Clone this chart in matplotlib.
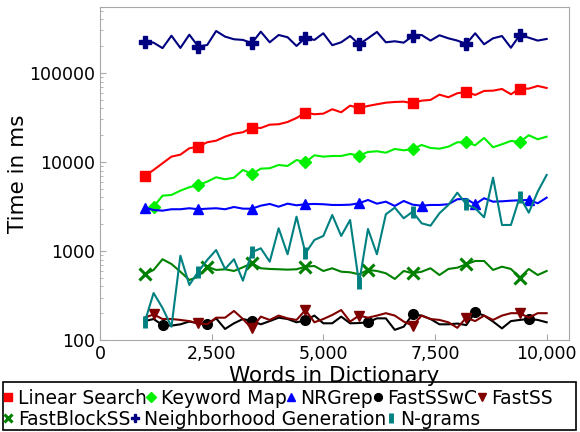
"""
Lookup time of approximate string matching methods vs dictionary size.
"""

import matplotlib
matplotlib.use("Agg")
import matplotlib.pyplot as plt
from matplotlib.lines import Line2D
from matplotlib.patches import Rectangle
from matplotlib.ticker import FuncFormatter, FixedLocator

# ============================================
# Data: lookup time in ms, dictionary grows in steps of 200 words
# ============================================
words = list(range(1000, 10001, 200))
words_keyword = words[1:]  # keyword map run starts at 1200 words

linear_search = [6960, 8130, 9670, 11480, 12080, 14260, 14860, 16640, 17340, 19230,
                 20790, 21560, 24280, 24100, 26240, 26530, 28130, 31200, 35800, 34360,
                 34900, 39100, 36150, 42940, 40450, 42580, 44480, 46360, 47200, 47600,
                 45700, 48860, 49770, 57040, 53330, 59150, 61200, 56600, 62800, 63260,
                 66070, 57650, 66660, 66660, 71450, 67800]
keyword_map = [3145, 4180, 4260, 4760, 5200, 5520, 6010, 6730, 6390, 6660,
               8130, 7330, 8410, 8500, 9250, 9020, 10520, 9930, 11890, 11480,
               11670, 11670, 12300, 11770, 12950, 13190, 12710, 13990, 13530, 13890,
               15530, 14360, 14100, 14860, 16640, 16640, 15410, 18620, 14620, 15810,
               17210, 16790, 19950, 17990, 19230]
nrgrep = [3067, 2889, 2838, 2943, 2943, 3020, 2943, 2987, 3020, 2943,
          3120, 2987, 2987, 3228, 3375, 3145, 3400, 3260, 3350, 3375,
          3350, 3288, 3288, 3313, 3435, 3742, 3400, 3581, 3203, 3646,
          3313, 3228, 3288, 3288, 3350, 3811, 3840, 3350, 3911, 3581,
          3614, 3672, 3711, 3742, 3435, 3972]
fastsswc = [163, 172, 147, 145, 150, 161, 154, 150, 175, 133,
            154, 172, 163, 150, 163, 178, 172, 158, 166, 188,
            154, 154, 183, 154, 155, 158, 175, 175, 130, 141,
            194, 188, 172, 150, 150, 153, 147, 205, 188, 161,
            135, 163, 168, 172, 168, 158]
fastss = [178, 194, 172, 172, 168, 163, 154, 150, 178, 178,
          212, 172, 135, 183, 168, 188, 175, 168, 217, 158,
          172, 191, 217, 161, 188, 178, 188, 200, 188, 161,
          145, 188, 172, 168, 158, 137, 178, 163, 188, 168,
          188, 200, 200, 178, 200, 200]
fastblockss = [547, 612, 807, 714, 585, 472, 514, 666, 612, 623,
               596, 656, 728, 639, 628, 623, 617, 623, 666, 678,
               596, 639, 585, 576, 547, 612, 596, 562, 485, 596,
               562, 585, 639, 537, 628, 649, 709, 772, 772, 612,
               666, 628, 501, 628, 537, 596]
neighborhood = [225000, 219000, 190000, 262000, 191000, 269000, 198000, 206000, 296000, 256000,
                239000, 235000, 216000, 291000, 221000, 267000, 252000, 201000, 249000, 235000,
                279000, 205000, 221000, 260000, 210000, 245000, 289000, 221000, 227000, 219000,
                260000, 267000, 231000, 265000, 245000, 231000, 212000, 279000, 210000, 245000,
                260000, 192000, 267000, 249000, 231000, 241000]
ngrams = [158, 337, 229, 141, 885, 415, 585, 792, 1026, 628,
          807, 464, 967, 1072, 758, 1799, 918, 2428, 942, 1329,
          1475, 2535, 1475, 2230, 434, 1766, 918, 2583, 3067, 2330,
          2765, 2047, 1923, 2653, 3288, 4518, 3350, 3020, 2392, 6660,
          1960, 1960, 4075, 2693, 4637, 7140]

# (label, x, y, colour, marker, marker indices)
series = [
    ("Linear Search", words, linear_search, "#ff0000", "s", [0, 6, 12, 18, 24, 30, 36, 42]),
    ("Keyword Map", words_keyword, keyword_map, "#00f000", "D", [0, 5, 11, 17, 23, 29, 35, 41]),
    ("NRGrep", words, nrgrep, "#0000ff", "^", [0, 6, 12, 18, 24, 31, 37, 43]),
    ("FastSSwC", words, fastsswc, "#000000", "o", [2, 7, 12, 18, 25, 30, 37, 43]),
    ("FastSS", words, fastss, "#800000", "v", [1, 6, 12, 18, 24, 30, 36, 42]),
    ("FastBlockSS", words, fastblockss, "#008000", "x", [0, 7, 12, 18, 25, 30, 36, 42]),
    ("Neighborhood Generation", words, neighborhood, "#000080", "P", [0, 6, 12, 18, 24, 30, 36, 42]),
    ("N-grams", words, ngrams, "#008080", "|", [0, 6, 12, 18, 24, 30, 36, 42]),
]

marker_style = {
    "s": dict(markersize=7),
    "D": dict(markersize=6),
    "^": dict(markersize=7),
    "o": dict(markersize=7),
    "v": dict(markersize=7),
    "x": dict(markersize=8, markeredgewidth=2.2),
    "P": dict(markersize=8),
    "|": dict(markersize=9, markeredgewidth=3.5),
}

# ============================================
# Plot
# ============================================
fig = plt.figure(figsize=(5.8, 4.32), dpi=100)
ax = fig.add_axes([0.1724, 0.213, 0.8086, 0.771])

for label, x, y, color, marker, marks in series:
    ax.plot(x, y, color=color, linewidth=1.5, marker=marker, markevery=marks,
            markeredgecolor=color, markerfacecolor=color, **marker_style[marker])

ax.set_yscale("log")
ax.set_xlim(0, 10500)
ax.set_ylim(100, 552000)

ax.xaxis.set_major_locator(FixedLocator([0, 2500, 5000, 7500, 10000]))
ax.xaxis.set_major_formatter(FuncFormatter(lambda v, pos: f"{v:,.0f}"))
ax.yaxis.set_major_formatter(FuncFormatter(lambda v, pos: f"{v:.0f}"))

for side in ax.spines.values():
    side.set_color("#a8a8a8")
ax.tick_params(axis="both", which="both", direction="in", colors="#a8a8a8",
               labelcolor="black", labelsize=12.5)
ax.tick_params(axis="both", which="major", length=4)
ax.tick_params(axis="y", which="minor", length=2)

ax.set_xlabel("Words in Dictionary", fontsize=15.5, labelpad=2)
ax.set_ylabel("Time in ms", fontsize=15.5, labelpad=1)

# ============================================
# Legend: two free-flowing rows inside one box
# ============================================
def handle(color, marker):
    kw = dict(marker_style[marker])
    kw["markersize"] = kw["markersize"] * 0.8
    return Line2D([], [], linestyle="none", marker=marker, color=color,
                  markeredgecolor=color, markerfacecolor=color, **kw)

rows = [series[:5], series[5:]]
row_y = [0.078, 0.030]
for row, yy in zip(rows, row_y):
    fig.legend([handle(s[3], s[4]) for s in row], [s[0] for s in row],
               loc="center left", bbox_to_anchor=(0.0, yy), ncol=len(row),
               frameon=False, fontsize=13.5, handlelength=0.5,
               handletextpad=0.25, columnspacing=0.0, borderpad=0.2,
               borderaxespad=0.0)

fig.patches.append(Rectangle((0.005, 0.004), 0.988, 0.111, transform=fig.transFigure,
                             fill=False, edgecolor="black", linewidth=1.2))

plt.savefig("out.png", dpi=100)
